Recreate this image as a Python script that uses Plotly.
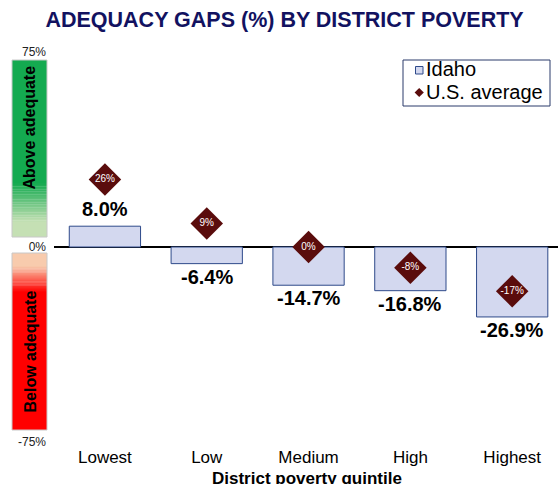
import plotly.graph_objects as go

categories = ["Lowest", "Low", "Medium", "High", "Highest"]
idaho = [8.0, -6.4, -14.7, -16.8, -26.9]
us_avg = [26, 9, 0, -8, -17]
y_ticks = [-75, 0, 75]
y_tick_labels = ["-75%", "0%", "75%"]
legend_labels = ["Idaho", "U.S. average"]
x_title = "District poverty quintile"

W, H = 558, 484
ML, MR, MT, MB = 54, 0, 52, 42
PW, PH = W - ML - MR, H - MT - MB
FONT = "Liberation Sans, Arial"
BAR_FILL, BAR_LINE, DIAMOND = "#d3d8ef", "#2e4a8a", "#5a0c0c"


def px(x):
    return (x - ML) / PW


def py(y):
    return (H - MB - y) / PH


def lerp(c1, c2, t):
    return "rgb(%d,%d,%d)" % tuple(round(a + (b - a) * t) for a, b in zip(c1, c2))


fig = go.Figure()
fig.add_trace(go.Bar(
    x=categories, y=idaho, name=legend_labels[0], width=0.7,
    marker=dict(color=BAR_FILL, line=dict(color=BAR_LINE, width=1)),
))
fig.add_trace(go.Scatter(
    x=categories, y=us_avg, name=legend_labels[1], mode="markers+text",
    marker=dict(symbol="diamond", size=25, color=DIAMOND),
    text=[f"{v}%" for v in us_avg], textposition="middle center",
    textfont=dict(color="white", size=10, family=FONT),
    cliponaxis=False,
))

annotations = []
for c, v in zip(categories, idaho):
    annotations.append(dict(
        x=c, y=v, xref="x", yref="y", text=f"<b>{v:.1f}%</b>", showarrow=False,
        yanchor="bottom" if v >= 0 else "top", yshift=4 if v >= 0 else 0,
        font=dict(size=20, color="black", family=FONT),
    ))

shapes = []
x0, x1 = px(12), px(47)
green_dark = (20, 170, 80)
green_pale = (197, 224, 180)
peach = (248, 203, 173)
red = (255, 0, 0)
gtop, gbot = 60, 237
g_s, g_e = 183, 222
n = 24
shapes.append(dict(type="rect", xref="paper", yref="paper", x0=x0, x1=x1,
                   y0=py(g_s), y1=py(gtop), fillcolor=lerp(green_dark, green_dark, 0), line=dict(width=0), layer="below"))
for i in range(n):
    a = g_s + (g_e - g_s) * i / n
    b = g_s + (g_e - g_s) * (i + 1) / n
    shapes.append(dict(type="rect", xref="paper", yref="paper", x0=x0, x1=x1,
                       y0=py(b + 0.3), y1=py(a), fillcolor=lerp(green_dark, green_pale, (i + 0.5) / n),
                       line=dict(width=0), layer="below"))
shapes.append(dict(type="rect", xref="paper", yref="paper", x0=x0, x1=x1,
                   y0=py(gbot), y1=py(g_e), fillcolor=lerp(green_pale, green_pale, 0), line=dict(width=0), layer="below"))
rtop, rbot = 253, 430
r_s, r_e = 266, 292
shapes.append(dict(type="rect", xref="paper", yref="paper", x0=x0, x1=x1,
                   y0=py(r_s), y1=py(rtop), fillcolor=lerp(peach, peach, 0), line=dict(width=0), layer="below"))
for i in range(n):
    a = r_s + (r_e - r_s) * i / n
    b = r_s + (r_e - r_s) * (i + 1) / n
    shapes.append(dict(type="rect", xref="paper", yref="paper", x0=x0, x1=x1,
                       y0=py(b + 0.3), y1=py(a), fillcolor=lerp(peach, red, (i + 0.5) / n),
                       line=dict(width=0), layer="below"))
shapes.append(dict(type="rect", xref="paper", yref="paper", x0=x0, x1=x1,
                   y0=py(rbot), y1=py(r_e), fillcolor=lerp(red, red, 0), line=dict(width=0), layer="below"))
for t, b in [(gtop, gbot), (rtop, rbot)]:
    shapes.append(dict(type="rect", xref="paper", yref="paper", x0=x0, x1=x1,
                       y0=py(b), y1=py(t), fillcolor="rgba(0,0,0,0)",
                       line=dict(width=1, color="#c8c8c8"), layer="below"))

annotations.append(dict(x=px(29.5), y=py(128), xref="paper", yref="paper", text="<b>Above adequate</b>",
                        textangle=-90, showarrow=False, xanchor="center", yanchor="middle",
                        font=dict(size=16, color="black", family=FONT)))
annotations.append(dict(x=px(29.5), y=py(352), xref="paper", yref="paper", text="<b>Below adequate</b>",
                        textangle=-90, showarrow=False, xanchor="center", yanchor="middle",
                        font=dict(size=16, color="black", family=FONT)))

# x-axis title placed just under the tick labels (partly clipped, as in the source)
annotations.append(dict(x=px(307), y=py(467), xref="paper", yref="paper", text=f"<b>{x_title}</b>",
                        showarrow=False, xanchor="center", yanchor="top",
                        font=dict(size=17, color="black", family=FONT)))

# custom legend box (compact, Excel-like)
shapes.append(dict(type="rect", xref="paper", yref="paper", x0=px(403), x1=px(550), y0=py(106), y1=py(60),
                   fillcolor="white", line=dict(width=1, color="#2a3a6a"), layer="above"))
shapes.append(dict(type="rect", xref="paper", yref="paper", x0=px(415.5), x1=px(423), y0=py(74), y1=py(66.5),
                   fillcolor=BAR_FILL, line=dict(width=1, color=BAR_LINE), layer="above"))
cx, cy, r = 419.2, 92.5, 4.6
shapes.append(dict(type="path", xref="paper", yref="paper",
                   path=f"M {px(cx - r)},{py(cy)} L {px(cx)},{py(cy - r)} L {px(cx + r)},{py(cy)} L {px(cx)},{py(cy + r)} Z",
                   fillcolor=DIAMOND, line=dict(width=0), layer="above"))
for lab, yy in zip(legend_labels, [69.5, 92.5]):
    annotations.append(dict(x=px(423.5), y=py(yy), xref="paper", yref="paper", text=lab, showarrow=False,
                            xanchor="left", yanchor="middle", font=dict(size=20, color="black", family=FONT)))

fig.update_layout(
    width=W, height=H,
    margin=dict(l=ML, r=MR, t=MT, b=MB, autoexpand=False),
    paper_bgcolor="white", plot_bgcolor="white",
    font=dict(family=FONT, color="black"),
    title=dict(text="<b>ADEQUACY GAPS (%) BY DISTRICT POVERTY</b>", x=0.51, xanchor="center",
               y=1 - 19 / H, yanchor="middle", font=dict(size=21.5, color="#121260")),
    showlegend=False,
    xaxis=dict(range=[-0.5, 4.45], showgrid=False, showline=False, ticks="", automargin=False,
               tickfont=dict(size=17, color="black"), ticklabelstandoff=3),
    yaxis=dict(range=[-75, 75], tickvals=y_ticks, ticktext=y_tick_labels, automargin=False,
               tickfont=dict(size=12, color="#222"), showgrid=True, gridcolor="#dcdcdc", gridwidth=1,
               zeroline=True, zerolinecolor="black", zerolinewidth=2, ticks="", showline=False,
               ticklabelstandoff=7),
    shapes=shapes, annotations=annotations,
)

fig.write_html("out.html", config={"displayModeBar": False},
               post_script="document.body.style.margin='0';")
